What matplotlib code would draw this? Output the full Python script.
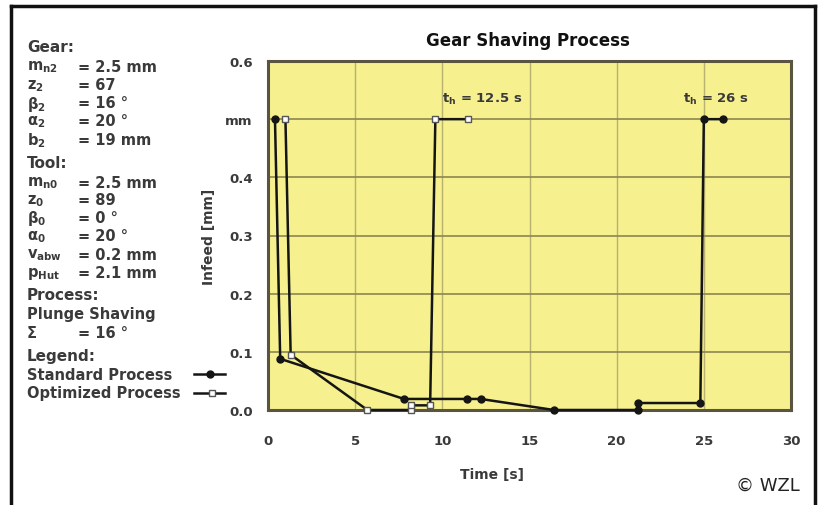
import matplotlib
matplotlib.use("Agg")
import matplotlib.pyplot as plt
from matplotlib.lines import Line2D

plt.rcParams["mathtext.default"] = "bf"

# Standard process (filled dots)
std_time = [0.4, 0.7, 7.8, 11.4, 12.2, 16.4, 21.2, 21.2, 24.8, 25.0, 26.1]
std_infeed = [0.5, 0.088, 0.019, 0.019, 0.019, 0.0, 0.0, 0.012, 0.012, 0.5, 0.5]

# Optimized process (open squares)
opt_time = [1.0, 1.3, 5.7, 8.2, 8.2, 9.3, 9.6, 11.5]
opt_infeed = [0.5, 0.095, 0.0, 0.0, 0.008, 0.008, 0.5, 0.5]

y_ticks = [0.0, 0.1, 0.2, 0.3, 0.4, 0.5, 0.6]
y_tick_labels = ["0.0", "0.1", "0.2", "0.3", "0.4", "mm", "0.6"]
x_ticks = [0, 5, 10, 15, 20, 25, 30]

W, H = 822, 506
fig = plt.figure(figsize=(W / 100, H / 100), dpi=100)
fig.patch.set_facecolor("white")

def fx(px):
    return px / W

def fy(py):
    return 1 - py / H

ax = fig.add_axes([fx(268), fy(411), (791 - 268) / W, (411 - 62) / H])
ax.set_facecolor("#f6f08e")
ax.set_xlim(0, 30)
ax.set_ylim(0, 0.6)
ax.set_xticks(x_ticks)
ax.set_yticks(y_ticks)
ax.set_yticklabels(y_tick_labels)
ax.tick_params(length=0, labelsize=9.5, labelcolor="#3a3a3a")
ax.tick_params(axis="x", pad=17)
ax.tick_params(axis="y", pad=11)
for lab in ax.get_xticklabels() + ax.get_yticklabels():
    lab.set_fontweight("bold")
ax.grid(axis="y", color="#8c8650", linewidth=1.2)
ax.grid(axis="x", color="#b8b270", linewidth=1.0)
ax.set_axisbelow(True)
for spine in ax.spines.values():
    spine.set_color("#5a5540")
    spine.set_linewidth(2.2)

ax.plot(std_time, std_infeed, color="#151515", linewidth=1.8, marker="o",
        markersize=5, markerfacecolor="#151515", markeredgecolor="#151515",
        clip_on=False, zorder=4)
ax.plot(opt_time, opt_infeed, color="#151515", linewidth=1.8, marker="s",
        markersize=5, markerfacecolor="white", markeredgecolor="#555555",
        markeredgewidth=1.0, clip_on=False, zorder=5)

ax.text(10.0, 0.535, r"$t_h$ = 12.5 s", fontsize=9.5, color="#3a3a3a",
        fontweight="bold", ha="left", va="center")
ax.text(23.8, 0.535, r"$t_h$ = 26 s", fontsize=9.5, color="#3a3a3a",
        fontweight="bold", ha="left", va="center")

ax.set_ylabel("Infeed [mm]", fontsize=10, fontweight="bold", color="#3a3a3a")
ax.yaxis.set_label_coords((216 - 268) / (791 - 268), 0.5)
ax.set_xlabel("Time [s]", fontsize=10, fontweight="bold", color="#3a3a3a")
ax.xaxis.set_label_coords((492 - 268) / (791 - 268), -(475 - 411) / (411 - 62))
ax.xaxis.label.set_va("center")

fig.text(fx(528), fy(41), "Gear Shaving Process", fontsize=12,
         fontweight="bold", color="#111111", ha="center", va="center")
fig.text(fx(800), fy(486), "© WZL", fontsize=13, color="#222222",
         ha="right", va="center")

# left parameter panel
txt_color = "#3a3a3a"
panel = [
    (47, "Gear:", None, True),
    (67, r"$m_{n2}$", "= 2.5 mm", False),
    (86, r"$z_2$", "= 67", False),
    (104, r"$\beta_2$", "= 16 °", False),
    (122, r"$\alpha_2$", "= 20 °", False),
    (141, r"$b_2$", "= 19 mm", False),
    (163, "Tool:", None, True),
    (183, r"$m_{n0}$", "= 2.5 mm", False),
    (201, r"$z_0$", "= 89", False),
    (219, r"$\beta_0$", "= 0 °", False),
    (237, r"$\alpha_0$", "= 20 °", False),
    (255, r"$v_{abw}$", "= 0.2 mm", False),
    (274, r"$p_{Hut}$", "= 2.1 mm", False),
    (296, "Process:", None, True),
    (315, "Plunge Shaving", None, False),
    (334, "Σ", "= 16 °", False),
    (356, "Legend:", None, True),
    (375, "Standard Process", None, False),
    (394, "Optimized Process", None, False),
]
for py, label, value, head in panel:
    fig.text(fx(27), fy(py), label, fontsize=11 if head else 10.5,
             fontweight="bold", color=txt_color, va="center", ha="left")
    if value:
        fig.text(fx(78), fy(py), value, fontsize=10.5, fontweight="bold",
                 color=txt_color, va="center", ha="left")

fig.lines.append(Line2D([fx(194), fx(210), fx(225)], [fy(375)] * 3,
                        transform=fig.transFigure, color="#151515",
                        linewidth=1.8, marker="o", markersize=5,
                        markevery=[1], markerfacecolor="#151515"))
fig.lines.append(Line2D([fx(194), fx(212), fx(225)], [fy(394)] * 3,
                        transform=fig.transFigure, color="#151515",
                        linewidth=1.8, marker="s", markersize=5,
                        markevery=[1], markerfacecolor="white",
                        markeredgecolor="#555555"))

# outer frame (left, top, right)
frame = dict(transform=fig.transFigure, color="#111111", linewidth=2.5)
fig.lines.append(Line2D([fx(11), fx(11)], [0, fy(7)], **frame))
fig.lines.append(Line2D([fx(11), fx(815)], [fy(7), fy(7)], **frame))
fig.lines.append(Line2D([fx(815), fx(815)], [fy(7), 0], **frame))

fig.savefig("out.png", dpi=100)
